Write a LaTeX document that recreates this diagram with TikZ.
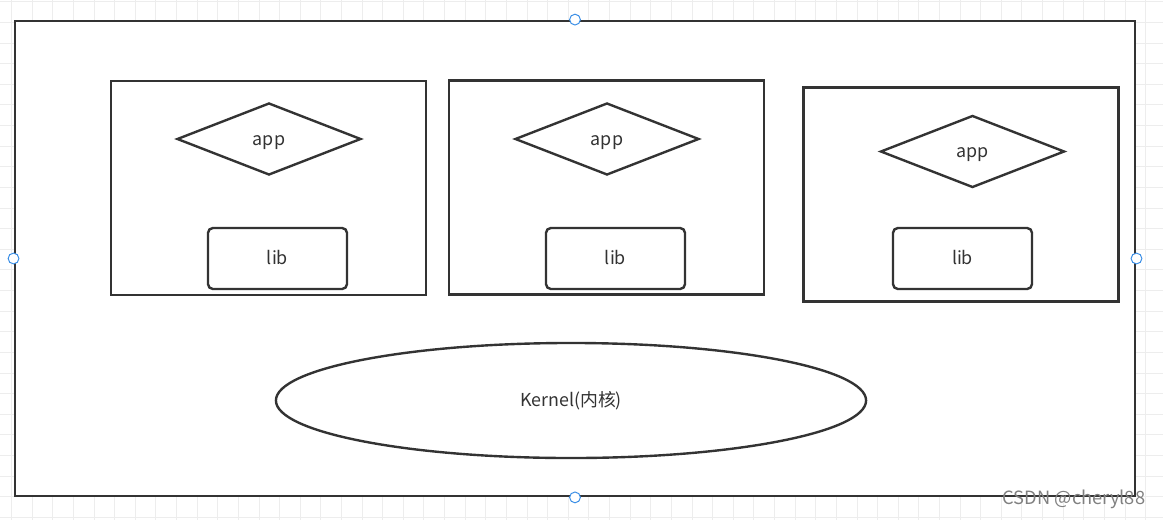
\documentclass[tikz,border=0pt]{standalone}
\usepackage{fontspec}
\setmainfont{Noto Sans CJK SC}
\usepackage{tikz}
\usetikzlibrary{shapes,calc}

\definecolor{inkgray}{HTML}{333333}
\definecolor{handleblue}{HTML}{3A8EE6}

\begin{document}
\begin{tikzpicture}[
  x=0.025cm,
  y=-0.025cm
]

  \tikzstyle{gridline}=[draw=black!7,line width=0.6pt]
  \tikzstyle{hostbox}=[draw=inkgray,rectangle,fill=white,line width=1.9pt,minimum width=28cm,minimum height=11.875cm,inner sep=0pt]
  \tikzstyle{procbox}=[draw=inkgray,rectangle,line width=1.7pt,minimum width=7.875cm,minimum height=5.35cm,inner sep=0pt]
  \tikzstyle{labeltext}=[text=inkgray,font=\fontsize{12.7}{15}\selectfont,text height=0.88em,text depth=0pt]
  \tikzstyle{appnode}=[draw=inkgray,diamond,line width=1.7pt,minimum width=4.6cm,minimum height=1.8cm,inner sep=0pt,labeltext]
  \tikzstyle{libnode}=[draw=inkgray,rectangle,rounded corners=3.5pt,line width=1.7pt,minimum width=3.475cm,minimum height=1.525cm,inner sep=0pt,labeltext]
  \tikzstyle{kernelnode}=[draw=inkgray,ellipse,line width=1.7pt,minimum width=14.75cm,minimum height=2.875cm,inner sep=0pt,labeltext]
  \tikzstyle{handle}=[draw=handleblue,circle,fill=white,line width=0.7pt,minimum size=0.27cm,inner sep=0pt]
  \tikzstyle{markletter}=[text=black!50,font=\fontsize{13}{15}\selectfont]

  \useasboundingbox (0,0) rectangle (1163,520);

  % background grid
  \foreach \i in {0,...,56}
    \draw[gridline] (11.5+20.62*\i,0) -- (11.5+20.62*\i,520);
  \foreach \j in {0,...,25}
    \draw[gridline] (0,1.8+20.62*\j) -- (1163,1.8+20.62*\j);

  % nodes
  \node[hostbox] (host) at (575,258.5) {};

  \node[procbox] (box1) at (268.5,188) {};
  \node[procbox] (box2) at (606.5,187.5) {};
  \node[procbox] (box3) at (961,194.5) {};

  \node[appnode] (app1) at (269,139) {app};
  \node[appnode] (app2) at (607,139) {app};
  \node[appnode] (app3) at (972.5,151.5) {app};

  \node[libnode] (lib1) at (277.5,258.5) {lib};
  \node[libnode] (lib2) at (615.5,258.5) {lib};
  \node[libnode] (lib3) at (962.5,258.5) {lib};

  \node[kernelnode] (kernel) at (571,400.5) {Kernel(内核)};

  % selection handles
  \node[handle] (hn) at (host.north) {};
  \node[handle] (hs) at (host.south) {};
  \node[handle] (hw) at (host.west) {};
  \node[handle] (he) at (host.east) {};

  \node[markletter] (mark) at (1074,499) {CSDN @cheryl88};

\end{tikzpicture}
\end{document}
